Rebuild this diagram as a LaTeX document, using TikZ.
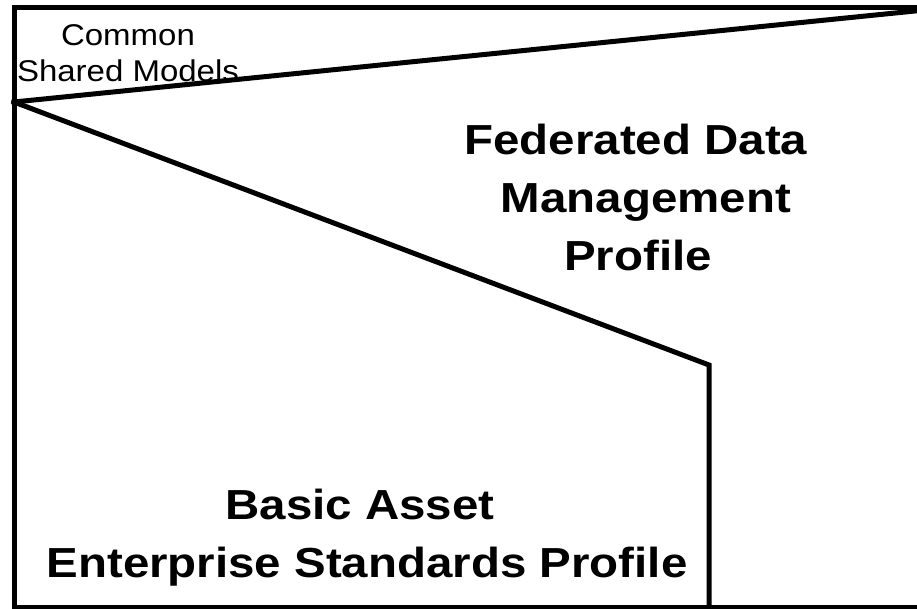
\documentclass[tikz,border=0pt]{standalone}
\usepackage{fontspec}
\newfontfamily\bigfont[FakeStretch=1.13]{Liberation Sans}
\newfontfamily\smallfont[FakeStretch=1.1]{Liberation Sans}
\tikzset{
  frame/.style={line width=5pt, line join=miter, line cap=rect},
  bigtext/.style={anchor=base, inner sep=0pt, font=\bigfont\bfseries\fontsize{42}{50}\selectfont},
  smalltext/.style={anchor=base, inner sep=0pt, font=\smallfont\fontsize{30}{36}\selectfont}
}
\begin{document}
\begin{tikzpicture}[x=1pt, y=-1pt]
\clip (0,0) rectangle (917,609);
\fill[white] (0,0) rectangle (917,609);
% corner points
\coordinate (tl) at (14,8);
\coordinate (tr) at (925,8);
\coordinate (bl) at (14,607);
\coordinate (br) at (925,607);
\coordinate (apex) at (14,102);
\coordinate (far) at (925,10);
\coordinate (knee) at (709,365);
\coordinate (foot) at (709,607);
% texts
\node[smalltext] (common) at (128,46) {Common};
\node[smalltext] (shared) at (128,82) {Shared Models};
\node[bigtext] (fed1) at (636,155) {Federated Data};
\node[bigtext] (fed2) at (646,213) {Management};
\node[bigtext] (fed3) at (638,271) {Profile};
\node[bigtext] (bas1) at (360,519) {Basic Asset};
\node[bigtext] (bas2) at (367,577) {Enterprise Standards Profile};
% frame
\draw[frame] (tr) -- (tl) -- (bl) -- (br);
\draw[frame] (apex) -- (far);
\draw[frame] (apex) -- (knee) -- (foot);
\end{tikzpicture}
\end{document}
